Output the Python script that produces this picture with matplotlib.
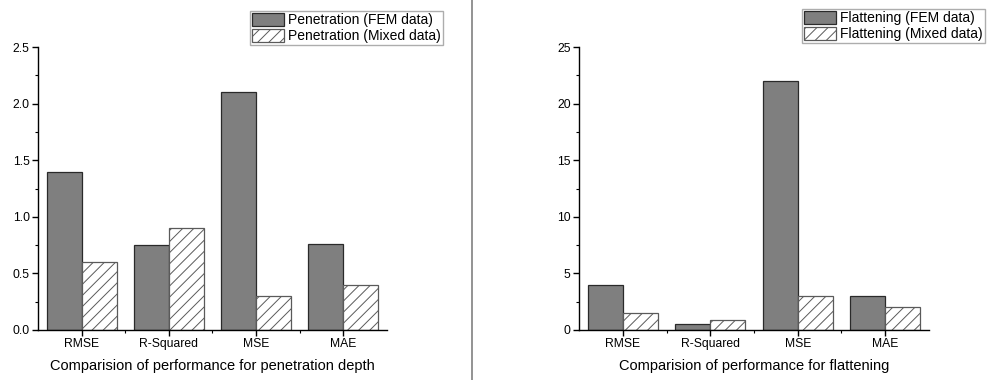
import matplotlib.pyplot as plt
import numpy as np
from matplotlib.lines import Line2D
from matplotlib.ticker import MultipleLocator

plt.rcParams['font.family'] = ['Liberation Sans', 'DejaVu Sans']
plt.rcParams['hatch.linewidth'] = 0.7

# data
metrics = ["RMSE", "R-Squared", "MSE", "MAE"]
pen_fem = [1.4, 0.75, 2.1, 0.76]
pen_mixed = [0.6, 0.9, 0.3, 0.4]
flat_fem = [4.0, 0.5, 22.0, 3.0]
flat_mixed = [1.5, 0.9, 3.0, 2.0]

fig = plt.figure(figsize=(9.9, 3.8), dpi=100)
ax1 = fig.add_axes([38/990, 1-330/380, 349/990, 283/380])
ax2 = fig.add_axes([579/990, 1-330/380, 350/990, 283/380])

x = np.arange(1, len(metrics)+1)
w = 0.4

def panel(ax, fem, mixed, names, ymax, major, xlabel, legpos):
    b1 = ax.bar(x - w/2, fem, w, color='#7f7f7f', edgecolor='#2a2a2a', lw=0.9, label=names[0])
    b2 = ax.bar(x + w/2, mixed, w, color='white', edgecolor='#5a5a5a', lw=0.9,
                hatch='///', label=names[1])
    ax.set_xlim(0.5, 4.5)
    ax.set_ylim(0, ymax)
    ax.yaxis.set_major_locator(MultipleLocator(major))
    ax.yaxis.set_minor_locator(MultipleLocator(major/2))
    ax.set_xticks(x)
    ax.set_xticks([1.5, 2.5, 3.5], minor=True)
    ax.set_xticklabels(metrics)
    for s in ['top', 'right']:
        ax.spines[s].set_visible(False)
    for s in ['left', 'bottom']:
        ax.spines[s].set_linewidth(1.0)
    ax.tick_params(which='major', direction='out', length=4, width=1, labelsize=8.7, pad=2)
    ax.tick_params(which='minor', direction='out', length=2.5, width=0.8)
    ax.set_xlabel(xlabel, fontsize=10.5, labelpad=6)
    fig.legend(handles=[b1, b2], loc='upper left', bbox_to_anchor=legpos,
               bbox_transform=fig.transFigure, fontsize=10, frameon=True,
               fancybox=False, edgecolor='#999999', borderaxespad=0,
               handlelength=2.3, handleheight=1.1, handletextpad=0.3,
               labelspacing=0.1, borderpad=0.15)

panel(ax1, pen_fem, pen_mixed,
      ["Penetration (FEM data)", "Penetration (Mixed data)"], 2.5, 0.5,
      "Comparision of performance for penetration depth", (250/990, 1-11/380))
panel(ax2, flat_fem, flat_mixed,
      ["Flattening (FEM data)", "Flattening (Mixed data)"], 25, 5,
      "Comparision of performance for flattening", (802/990, 1-9/380))

fig.add_artist(Line2D([472/990, 472/990], [0, 1], color='#8a8a8a', lw=1.3))

fig.savefig("out.png", dpi=100)
